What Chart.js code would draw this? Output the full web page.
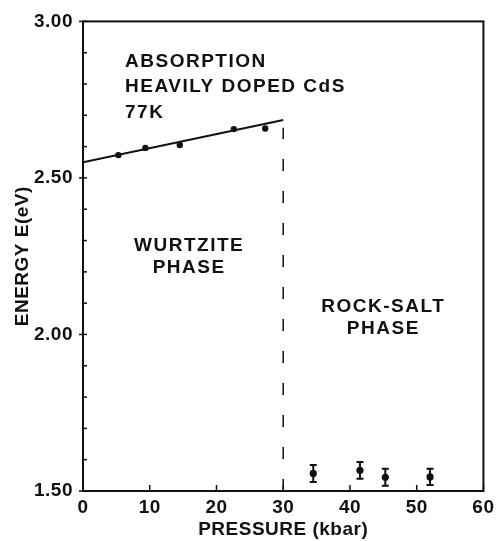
<!DOCTYPE html>
<html>
<head>
<meta charset="utf-8">
<script src="https://cdn.jsdelivr.net/npm/chart.js@4.4.1/dist/chart.umd.min.js"></script>
<style>
  html, body { margin: 0; padding: 0; background: #fff; }
  #wrap { width: 499px; height: 541px; }
</style>
</head>
<body>
<div id="wrap"><canvas id="c" width="499" height="541"></canvas></div>
<script>
// ---- data ----
const wurtzitePressure = [5.3, 9.35, 14.5, 22.6, 27.3];
const wurtziteEnergy   = [2.573, 2.596, 2.605, 2.656, 2.658];
const fitPressure = [0, 30];
const fitEnergy   = [2.550, 2.685];
const boundaryPressure = [30, 30];
const boundaryEnergy   = [1.50, 2.66];
const rockPressure = [34.5, 41.5, 45.3, 52.0];
const rockEnergy   = [1.556, 1.566, 1.544, 1.545];
const rockError    = [0.027, 0.027, 0.027, 0.026];
const xTickValues = [0, 10, 20, 30, 40, 50, 60];
const yMajorTicks = [1.5, 2.0, 2.5, 3.0];
const labels = [
  { text: 'ABSORPTION', x: 6.3, y: 2.870, align: 'left' },
  { text: 'HEAVILY DOPED CdS', x: 6.3, y: 2.791, align: 'left' },
  { text: '77K', x: 6.3, y: 2.709, align: 'left' },
  { text: 'WURTZITE', x: 15.9, y: 2.282, align: 'center' },
  { text: 'PHASE', x: 15.9, y: 2.212, align: 'center' },
  { text: 'ROCK-SALT', x: 45.0, y: 2.089, align: 'center' },
  { text: 'PHASE', x: 45.0, y: 2.019, align: 'center' }
];

const FONT = '"Liberation Sans", Arial, sans-serif';
const INK = '#111';

const toXY = (xs, ys) => xs.map((x, i) => ({ x: x, y: ys[i] }));

const spacingPlugin = {
  id: 'spacing',
  beforeDraw(chart) { chart.ctx.letterSpacing = '0.5px'; }
};

const framePlugin = {
  id: 'frame',
  afterDraw(chart) {
    const { ctx, chartArea: a, scales: { x, y } } = chart;
    ctx.save();
    ctx.strokeStyle = INK;
    ctx.lineWidth = 2;
    ctx.strokeRect(a.left, a.top, a.right - a.left, a.bottom - a.top);
    ctx.lineWidth = 1.5;
    xTickValues.forEach(v => {
      const px = x.getPixelForValue(v);
      ctx.beginPath(); ctx.moveTo(px, a.bottom); ctx.lineTo(px, a.bottom - 6); ctx.stroke();
    });
    y.ticks.forEach(t => {
      const py = y.getPixelForValue(t.value);
      const major = yMajorTicks.some(m => Math.abs(m - t.value) < 1e-6);
      ctx.beginPath();
      ctx.moveTo(a.left - (major ? 4 : 0), py);
      ctx.lineTo(a.left + 4, py);
      ctx.stroke();
    });
    ctx.restore();
  }
};

const errorBarPlugin = {
  id: 'errorBars',
  afterDatasetsDraw(chart) {
    const { ctx, scales: { x, y } } = chart;
    ctx.save();
    ctx.strokeStyle = INK;
    ctx.lineWidth = 2;
    rockPressure.forEach((p, i) => {
      const px = x.getPixelForValue(p);
      const top = y.getPixelForValue(rockEnergy[i] + rockError[i]);
      const bot = y.getPixelForValue(rockEnergy[i] - rockError[i]);
      ctx.beginPath();
      ctx.moveTo(px, top); ctx.lineTo(px, bot);
      ctx.moveTo(px - 3.5, top); ctx.lineTo(px + 3.5, top);
      ctx.moveTo(px - 3.5, bot); ctx.lineTo(px + 3.5, bot);
      ctx.stroke();
    });
    ctx.restore();
  }
};

const textPlugin = {
  id: 'annotations',
  afterDatasetsDraw(chart) {
    const { ctx, scales: { x, y } } = chart;
    ctx.save();
    ctx.letterSpacing = '1.5px';
    ctx.fillStyle = INK;
    ctx.font = 'bold 19px ' + FONT;
    ctx.textBaseline = 'middle';
    labels.forEach(l => {
      ctx.textAlign = l.align;
      ctx.fillText(l.text, x.getPixelForValue(l.x), y.getPixelForValue(l.y));
    });
    ctx.restore();
  }
};

const axisFont = { family: FONT, size: 19, weight: 'bold' };

new Chart(document.getElementById('c'), {
  type: 'scatter',
  data: {
    datasets: [
      {
        label: 'Wurtzite',
        data: toXY(wurtzitePressure, wurtziteEnergy),
        pointRadius: 3.2,
        pointBackgroundColor: INK,
        pointBorderWidth: 0
      },
      {
        label: 'Fit',
        data: toXY(fitPressure, fitEnergy),
        showLine: true,
        pointRadius: 0,
        borderColor: INK,
        borderWidth: 2.2
      },
      {
        label: 'Boundary',
        data: toXY(boundaryPressure, boundaryEnergy),
        showLine: true,
        pointRadius: 0,
        borderColor: INK,
        borderWidth: 1.5,
        borderDash: [12, 20]
      },
      {
        label: 'Rock-salt',
        data: toXY(rockPressure, rockEnergy),
        pointRadius: 3.6,
        pointBackgroundColor: INK,
        pointBorderWidth: 0
      }
    ]
  },
  options: {
    responsive: false,
    animation: false,
    devicePixelRatio: 1,
    layout: { padding: { left: 0, right: 11, top: 17, bottom: 0 } },
    plugins: { legend: { display: false }, tooltip: { enabled: false } },
    scales: {
      x: {
        type: 'linear',
        min: 0, max: 60,
        afterFit(s) { s.height = 50; },
        grid: { display: false, drawTicks: false },
        border: { display: false },
        ticks: {
          stepSize: 10,
          padding: 5,
          color: INK,
          font: axisFont
        },
        title: {
          display: true,
          text: 'PRESSURE (kbar)',
          color: INK,
          font: axisFont,
          padding: { top: 0, bottom: 0 }
        }
      },
      y: {
        type: 'linear',
        min: 1.5, max: 3.0,
        afterFit(s) { s.width = 83; },
        grid: { display: false, drawTicks: false },
        border: { display: false },
        ticks: {
          stepSize: 0.1,
          autoSkip: false,
          padding: 10,
          color: INK,
          font: axisFont,
          callback(v) {
            return yMajorTicks.some(m => Math.abs(m - v) < 1e-6) ? v.toFixed(2) : '';
          }
        },
        title: {
          display: true,
          text: 'ENERGY E(eV)',
          color: INK,
          font: axisFont,
          padding: { top: 11, bottom: 0 }
        }
      }
    }
  },
  plugins: [spacingPlugin, errorBarPlugin, textPlugin, framePlugin]
});
</script>
</body>
</html>
